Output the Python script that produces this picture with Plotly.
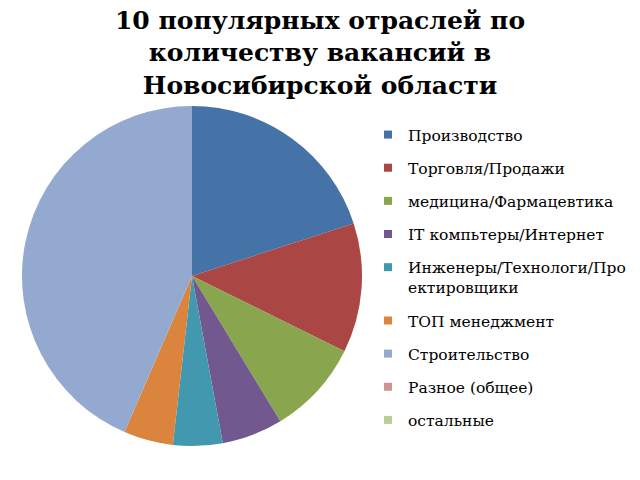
import plotly.graph_objects as go

categories = [
    "Производство",
    "Торговля/Продажи",
    "медицина/Фармацевтика",
    "IT компьтеры/Интернет",
    "Инженеры/Технологи/Про<br>ектировщики",
    "ТОП менеджмент",
    "Строительство",
    "Разное (общее)",
    "остальные",
]
values = [20.0, 12.3, 9.0, 5.8, 4.7, 4.7, 43.5, 0, 0]
colors = ["#4572A7", "#AA4643", "#89A54E", "#71588F", "#4198AF",
          "#DB843D", "#93A9CF", "#D19392", "#B9CD96"]

W, H = 640, 480
cx0, cx1 = 22, 362
cy0, cy1 = 106, 446

fig = go.Figure()
fig.add_trace(go.Pie(
    labels=categories, values=values, sort=False, direction="clockwise",
    rotation=0, marker=dict(colors=colors, line=dict(width=0)),
    textinfo="none", hoverinfo="skip", showlegend=False,
    domain=dict(x=[cx0 / W, cx1 / W], y=[1 - cy1 / H, 1 - cy0 / H]),
))
for name, col in zip(categories, colors):
    fig.add_trace(go.Scatter(
        x=[None], y=[None], mode="markers", name=name, legendgroup=name,
        marker=dict(symbol="square", size=8, color=col),
        hoverinfo="skip",
    ))

fig.update_layout(
    width=W, height=H,
    margin=dict(l=0, r=0, t=0, b=0),
    paper_bgcolor="white", plot_bgcolor="white",
    xaxis=dict(visible=False), yaxis=dict(visible=False),
    title=dict(
        text="10 популярных отраслей по<br>количеству вакансий в<br>Новосибирской области",
        x=0.5, xanchor="center", xref="paper", y=0.94, yanchor="top",
        font=dict(family="DejaVu Serif", size=25, color="black", weight="bold"),
    ),
    legend=dict(
        x=368 / W, y=1 - 118 / H, xanchor="left", yanchor="top",
        font=dict(family="DejaVu Serif", size=15.5, color="black"),
        tracegroupgap=10, valign="top", itemwidth=30,
        bgcolor="rgba(0,0,0,0)",
    ),
)
fig.write_html("out.html", config={"displayModeBar": False},
               post_script="document.body.style.margin='0px';")
